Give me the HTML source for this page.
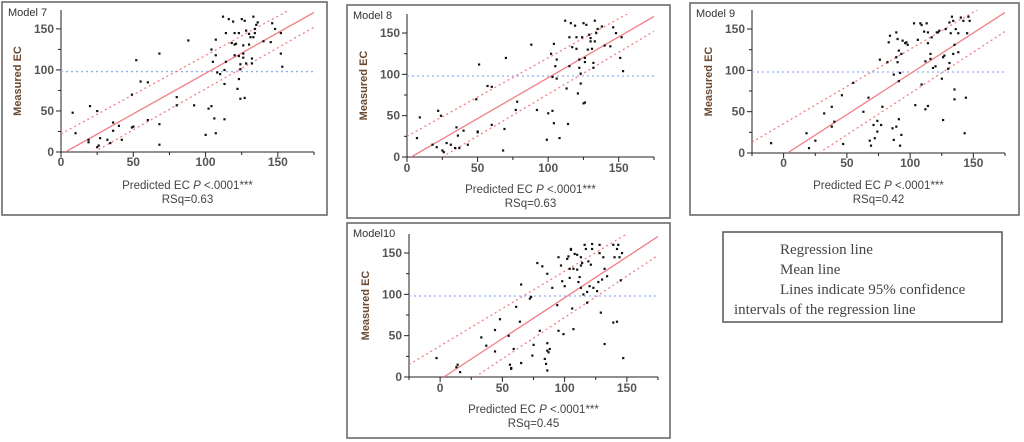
<!DOCTYPE html>
<html><head><meta charset="utf-8"><style>
body{margin:0;background:#fff;width:1024px;height:442px;overflow:hidden}
svg{display:block}
text{font-family:"Liberation Sans",sans-serif}
text.serif{font-family:"Liberation Serif",serif}
</style></head><body>
<svg id="c" width="1024" height="442"></svg>
<script>
const xTicks=[0,50,100,150];
const yTicks=[0,50,100,150];
const meanY=98;
const m7Points=[[8,48],[10,23],[20,56],[19,15],[19,12],[25,50],[26,8],[25,6],[27,17],[32,15],[34,11],[36,36],[36,26],[40,32],[42,15],[49,70],[49,30],[50,31],[52,112],[55,86],[60,85],[60,39],[68,120],[68,34],[68,9],[80,67],[80,57],[88,136],[92,57],[100,21],[102,53],[104,56],[104,125],[105,110],[106,41],[107,118],[107,137],[107,23],[108,97],[110,95],[112,165],[113,40],[113,100],[113,83],[114,145],[114,110],[116,162],[118,133],[119,159],[120,145],[120,118],[120,131],[121,132],[122,77],[123,145],[123,89],[123,117],[124,107],[124,101],[124,65],[125,162],[126,130],[126,120],[126,115],[127,66],[127,160],[128,148],[128,108],[130,144],[130,131],[131,140],[132,114],[132,108],[133,140],[133,165],[134,150],[134,145],[135,155],[136,158],[140,135],[145,134],[146,157],[148,150],[152,145],[152,120],[153,104]];
const m8Points=[[7,23],[9,48],[18,15],[21,12],[22,56],[24,50],[25,8],[26,6],[28,17],[31,15],[34,11],[35,36],[36,26],[37,11],[40,32],[43,15],[49,70],[50,30],[50,31],[51,112],[57,86],[60,85],[60,39],[69,34],[68,8],[70,120],[77,57],[78,67],[88,136],[92,57],[99,21],[100,53],[102,125],[103,56],[103,97],[104,41],[104,137],[105,110],[106,95],[106,118],[108,23],[112,165],[113,83],[114,40],[115,145],[115,110],[116,162],[117,133],[119,159],[120,131],[120,145],[121,77],[122,118],[122,108],[123,89],[123,101],[124,145],[125,162],[125,65],[126,66],[126,120],[126,115],[127,160],[128,130],[129,148],[130,144],[130,140],[131,131],[132,114],[132,108],[133,165],[133,140],[134,150],[135,155],[138,158],[140,135],[144,134],[146,157],[148,150],[151,120],[152,145],[153,104]];
const m9Points=[[-10,12],[18,24],[20,6],[25,15],[32,48],[38,56],[38,32],[40,38],[46,70],[47,11],[55,85],[63,50],[67,67],[68,15],[69,9],[71,34],[72,18],[74,39],[74,26],[76,113],[77,34],[78,56],[82,110],[83,134],[84,142],[86,30],[87,16],[87,95],[89,32],[89,116],[89,146],[90,110],[90,138],[91,124],[91,87],[91,41],[92,97],[92,9],[93,22],[93,120],[94,136],[96,133],[97,134],[98,131],[103,157],[104,58],[106,137],[108,157],[109,155],[109,83],[111,147],[112,53],[112,111],[113,157],[114,57],[114,133],[114,146],[116,120],[116,114],[117,140],[118,103],[120,105],[121,146],[122,146],[123,148],[125,90],[126,40],[126,116],[127,118],[128,150],[130,102],[131,158],[131,109],[132,145],[133,165],[134,120],[134,160],[135,131],[135,77],[135,65],[136,150],[138,145],[138,122],[140,164],[142,160],[143,24],[144,67],[145,145],[146,165],[147,160]];
const m10Points=[[-3,23],[13,12],[14,15],[16,6],[33,48],[37,38],[44,31],[44,57],[48,70],[55,50],[56,15],[57,10],[57,11],[59,34],[61,85],[64,67],[65,112],[65,17],[72,95],[73,97],[74,26],[75,39],[78,138],[80,56],[82,134],[84,22],[85,16],[86,41],[86,32],[86,8],[86,125],[87,30],[88,34],[90,108],[94,87],[95,56],[95,145],[97,135],[98,116],[99,52],[100,110],[102,143],[103,146],[104,120],[104,131],[105,155],[105,154],[106,83],[107,58],[107,131],[108,149],[110,148],[110,130],[111,115],[112,121],[113,145],[113,135],[113,108],[114,138],[115,100],[116,160],[117,155],[118,103],[118,90],[119,140],[120,110],[121,136],[122,161],[122,155],[123,108],[126,104],[127,115],[128,160],[128,150],[129,78],[130,118],[131,145],[132,131],[132,40],[134,122],[139,66],[139,160],[140,145],[142,67],[142,155],[143,160],[144,145],[145,117],[146,150],[147,23]];
const m7Reg=[3,0,175,170], m7Upper=[0,22,160,175], m7Lower=[23,0,175,152];
const m8Reg=[3,0,175,170], m8Upper=[0,25,158,175], m8Lower=[25,0,175,152];
const m9Reg=[3,0,175,170], m9Upper=[-25,13,155,175], m9Lower=[28,0,175,147];
const m10Reg=[3,0,175,170], m10Upper=[-25,15,152,175], m10Lower=[28,0,175,147];
const titles=["Model 7","Model 8","Model 9","Model10"];
const rsq=["RSq=0.63","RSq=0.63","RSq=0.42","RSq=0.45"];

const panels=[
 {f:[2,2,325,213],px:[61,314],py:[152,10],xd:[0,175],t:0,pts:m7Points,reg:m7Reg,up:m7Upper,lo:m7Lower,ty:166,ly:189,ry:203},
 {f:[347,5,323,213],px:[407,654],py:[157,14],xd:[0,175],t:1,pts:m8Points,reg:m8Reg,up:m8Upper,lo:m8Lower,ty:172,ly:193,ry:207},
 {f:[690,3,329,212],px:[752,1005],py:[153,10],xd:[-25,175],t:2,pts:m9Points,reg:m9Reg,up:m9Upper,lo:m9Lower,ty:167,ly:189,ry:203},
 {f:[347,223,323,215],px:[409,658],py:[377,234],xd:[-25,175],t:3,pts:m10Points,reg:m10Reg,up:m10Upper,lo:m10Lower,ty:392,ly:413,ry:427}
];
const NS="http://www.w3.org/2000/svg";
const svg=document.getElementById('c');
function mk(tag,at,parent,txt){const e=document.createElementNS(NS,tag);for(const k in at)e.setAttribute(k,at[k]);if(txt!==undefined)e.textContent=txt;(parent||svg).appendChild(e);return e;}
panels.forEach((p,i)=>{
 const g=mk('g',{});
 
 
 const sx=v=>p.px[0]+(v-p.xd[0])/(p.xd[1]-p.xd[0])*(p.px[1]-p.px[0]);
 const sy=v=>p.py[0]+v/173*(p.py[1]-p.py[0]);
 const fr=mk('rect',{x:p.f[0],y:p.f[1],width:p.f[2],height:p.f[3],fill:'#fff',stroke:'#6a6a6a','stroke-width':1.6},g);
 
 
 const tt=mk('text',{x:p.f[0]+6,y:p.f[1]+14,'font-size':11,fill:'#333'},g,titles[i]);
 
 
 const cp='clip'+i;
 const d=mk('clipPath',{id:cp},g);mk('rect',{x:p.px[0],y:p.py[1],width:p.px[1]-p.px[0],height:p.py[0]-p.py[1]},d);
 mk('line',{x1:p.px[0],y1:p.py[1],x2:p.px[0],y2:p.py[0],stroke:'#222','stroke-width':1},g);
 mk('line',{x1:p.px[0],y1:p.py[0],x2:p.px[1],y2:p.py[0],stroke:'#222','stroke-width':1},g);
 for(let v=Math.ceil(p.xd[0]/25)*25;v<=p.xd[1];v+=25){const x=sx(v);mk('line',{x1:x,y1:p.py[0],x2:x,y2:p.py[0]+(v%50===0?5:3),stroke:'#222'},g);
  if(xTicks.includes(v)){const tl=mk('text',{x:x,y:p.ty,'font-size':12,'text-anchor':'middle',fill:'#555','font-weight':'bold'},g,v);
  }}
 for(let v=0;v<=173;v+=25){const y=sy(v);mk('line',{x1:p.px[0],y1:y,x2:p.px[0]-(v%50===0?5:3),y2:y,stroke:'#222'},g);
  if(yTicks.includes(v)){const tl=mk('text',{x:p.px[0]-7,y:y+4,'font-size':12,'text-anchor':'end',fill:'#555','font-weight':'bold'},g,v);
  }}
 const yl=mk('text',{x:0,y:0,'font-size':11,'text-anchor':'middle',fill:'#6b4a32','font-weight':'bold',transform:`translate(${p.px[0]-40},${(p.py[0]+p.py[1])/2}) rotate(-90)`},g,'Measured EC');
 
 const cx=(p.px[0]+p.px[1])/2;
 const xl=mk('text',{x:cx,y:p.ly,'font-size':11.5,'text-anchor':'middle',fill:'#444'},g,'Predicted EC\u00A0');
 mk('tspan',{'font-style':'italic'},xl,'P');
 mk('tspan',{},xl,' <.0001***');
 
 const rl=mk('text',{x:cx,y:p.ry,'font-size':11.5,'text-anchor':'middle',fill:'#444'},g,rsq[i]);
 
 const inner=mk('g',{'clip-path':`url(#${cp})`},g);
 const ml=mk('line',{x1:p.px[0],x2:p.px[1],y1:sy(meanY),y2:sy(meanY),stroke:'#8fb0f0','stroke-width':1.3,'stroke-dasharray':'2,3'},inner);
 
 const ln=(a,dash,name)=>{const l=mk('line',{x1:sx(a[0]),y1:sy(a[1]),x2:sx(a[2]),y2:sy(a[3]),stroke:'#f07f86','stroke-width':1.3},inner);if(dash)l.setAttribute('stroke-dasharray',dash);
  };
 ln(p.reg,null,'regression-line');ln(p.up,'2,3','upper-confidence-line');ln(p.lo,'2,3','lower-confidence-line');
 p.pts.forEach(q=>{const c=mk('rect',{x:sx(q[0])-1,y:sy(q[1])-1,width:2.2,height:2.2,fill:'#111'},inner);
  });
});
const lg=mk('g',{});

mk('rect',{x:723,y:232,width:279,height:90,fill:'#fff',stroke:'#555','stroke-width':1.5},lg);
const lines=[[780,254,'Regression line'],[780,274,'Mean line'],[780,294,'Lines indicate 95% confidence'],[734,314,'intervals of the regression line']];
lines.forEach(l=>{const t=mk('text',{x:l[0],y:l[1],'font-size':15,fill:'#444','class':'serif'},lg,l[2]);
 });
</script>
</body></html>
